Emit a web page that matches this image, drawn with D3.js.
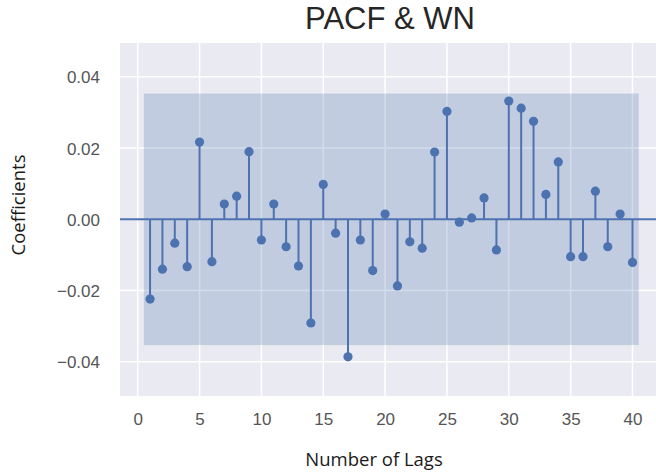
<!DOCTYPE html>
<html>
<head>
<meta charset="utf-8">
<script src="https://cdn.jsdelivr.net/npm/d3@7"></script>
<style>
  body { margin: 0; background: #fff; }
  svg { display: block; }
</style>
</head>
<body>
<svg id="chart" width="656" height="474"></svg>
<script>
// Data
var lags = [1, 2, 3, 4, 5, 6, 7, 8, 9, 10, 11, 12, 13, 14, 15, 16, 17, 18, 19, 20,
            21, 22, 23, 24, 25, 26, 27, 28, 29, 30, 31, 32, 33, 34, 35, 36, 37, 38, 39, 40];
var pacf = [-0.0224, -0.0140, -0.0067, -0.0133, 0.0217, -0.0119, 0.0043, 0.0065, 0.0190, -0.0058,
            0.0043, -0.0077, -0.0131, -0.0291, 0.0098, -0.0039, -0.0386, -0.0058, -0.0144, 0.0015,
            -0.0187, -0.0063, -0.0081, 0.0189, 0.0303, -0.0008, 0.0004, 0.0060, -0.0086, 0.0332,
            0.0312, 0.0275, 0.0070, 0.0161, -0.0105, -0.0105, 0.0079, -0.0077, 0.0015, -0.0121];
var confBand = [0.5, 40.5];      // lag range of the shaded band
var confLimit = 0.0353;          // +/- limit
var xTicks = [0, 5, 10, 15, 20, 25, 30, 35, 40];
var yTicks = [-0.04, -0.02, 0, 0.02, 0.04];

var blue = "#4C72B0";

const svg = d3.select("#chart");

// Plot area
const panel = {left: 120, top: 43, right: 656, bottom: 396};

const xscale = d3.scaleLinear()
  .domain([-1.43, 41.9])
  .range([panel.left, panel.right]);

const yscale = d3.scaleLinear()
  .domain([-0.0496, 0.0495])
  .range([panel.bottom, panel.top]);

svg.append("rect")
  .attr("x", panel.left)
  .attr("y", panel.top)
  .attr("width", panel.right - panel.left)
  .attr("height", panel.bottom - panel.top)
  .style("fill", "#EAEAF2");

// Grid
svg.append("g").selectAll("line")
  .data(xTicks)
  .join("line")
  .attr("x1", d => xscale(d)).attr("x2", d => xscale(d))
  .attr("y1", panel.top).attr("y2", panel.bottom)
  .style("stroke", "#fff")
  .style("stroke-width", 1.5);

svg.append("g").selectAll("line")
  .data(yTicks)
  .join("line")
  .attr("x1", panel.left).attr("x2", panel.right)
  .attr("y1", d => yscale(d)).attr("y2", d => yscale(d))
  .style("stroke", "#fff")
  .style("stroke-width", 1.5);

// Confidence band
svg.append("rect")
  .attr("x", xscale(confBand[0]))
  .attr("y", yscale(confLimit))
  .attr("width", xscale(confBand[1]) - xscale(confBand[0]))
  .attr("height", yscale(-confLimit) - yscale(confLimit))
  .style("fill", blue)
  .style("fill-opacity", 0.25);

// Zero line
svg.append("line")
  .attr("x1", panel.left).attr("x2", panel.right)
  .attr("y1", yscale(0)).attr("y2", yscale(0))
  .style("stroke", blue)
  .style("stroke-width", 2);

// Stems and markers
var points = lags.map((l, i) => ({lag: l, v: pacf[i]}));

svg.append("g").selectAll("line")
  .data(points)
  .join("line")
  .attr("x1", d => xscale(d.lag)).attr("x2", d => xscale(d.lag))
  .attr("y1", yscale(0)).attr("y2", d => yscale(d.v))
  .style("stroke", blue)
  .style("stroke-width", 2);

svg.append("g").selectAll("circle")
  .data(points)
  .join("circle")
  .attr("cx", d => xscale(d.lag))
  .attr("cy", d => yscale(d.v))
  .attr("r", 4.6)
  .style("fill", blue);

// Axes (tick labels only, seaborn style)
const xaxis = d3.axisBottom(xscale).tickValues(xTicks).tickSize(0).tickPadding(0)
  .tickFormat(d3.format("d"));
const yaxis = d3.axisLeft(yscale).tickValues(yTicks).tickSize(0).tickPadding(0)
  .tickFormat(d3.format(".2f"));

const gx = svg.append("g")
  .attr("transform", `translate(0,${panel.bottom + 17})`)
  .call(xaxis);
const gy = svg.append("g")
  .attr("transform", `translate(100,0)`)
  .call(yaxis);

svg.selectAll(".domain").remove();
svg.selectAll(".tick text")
  .style("font-family", "'Liberation Sans', Arial, sans-serif")
  .style("font-size", "17px")
  .style("fill", "#555");
gy.selectAll(".tick text").attr("dy", "0.36em");

// Titles
svg.append("text")
  .attr("x", 390)
  .attr("y", 29)
  .attr("text-anchor", "middle")
  .style("font-family", "'Liberation Sans', Arial, sans-serif")
  .style("font-size", "31px")
  .style("fill", "#262626")
  .text("PACF & WN");

svg.append("text")
  .attr("x", 374)
  .attr("y", 466)
  .attr("text-anchor", "middle")
  .style("font-family", "'Open Sans', sans-serif")
  .style("font-size", "18.5px")
  .style("fill", "#1a1a1a")
  .text("Number of Lags");

svg.append("text")
  .attr("transform", "translate(25,205) rotate(-90)")
  .attr("text-anchor", "middle")
  .style("font-family", "'Open Sans', sans-serif")
  .style("font-size", "18.5px")
  .style("fill", "#1a1a1a")
  .text("Coefficients");
</script>
</body>
</html>
